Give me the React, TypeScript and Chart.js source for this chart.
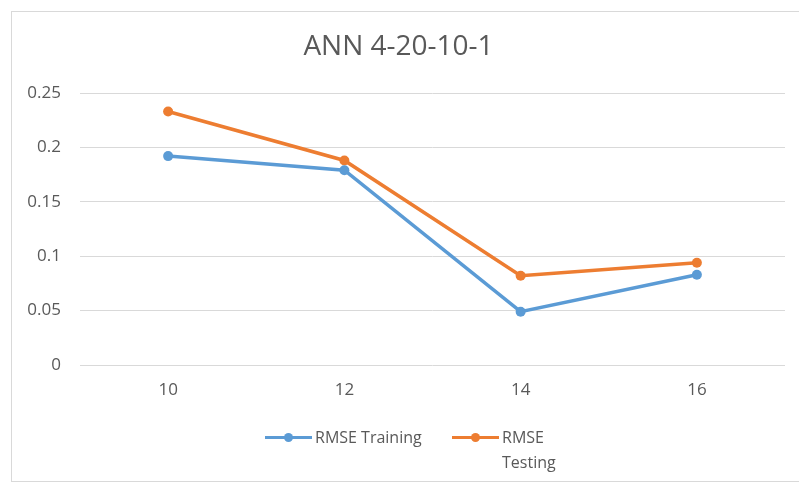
import React, { useEffect, useRef } from "react";
import { Chart, registerables } from "chart.js";

Chart.register(...registerables);

const titleText = "ANN 4-20-10-1";
const categories = ["10", "12", "14", "16"];
const trainingLabel = "RMSE Training";
const testingLabel = "RMSE Testing";
const trainingValues = [0.192, 0.179, 0.049, 0.083];
const testingValues = [0.233, 0.188, 0.082, 0.094];
const yTicks = [0, 0.05, 0.1, 0.15, 0.2, 0.25];

const BLUE = "#5B9BD5";
const ORANGE = "#ED7D31";
const TEXT = "#595959";
const GRID = "#d9d9d9";
const FONT = "'Open Sans', sans-serif";

function LegendItem({ color, label, left, textWidth }: { color: string; label: string; left: number; textWidth?: number }) {
  return (
    <div style={{ position: "absolute", left, top: 413, display: "flex", alignItems: "flex-start" }}>
      <div style={{ position: "relative", width: 47, height: 24, flex: "none" }}>
        <div style={{ position: "absolute", left: 0, top: 11, width: 47, height: 3, background: color }} />
        <div style={{ position: "absolute", left: 19, top: 8, width: 9, height: 9, borderRadius: "50%", background: color }} />
      </div>
      <div style={{ marginLeft: 3, font: `16px ${FONT}`, lineHeight: "25px", color: TEXT, width: textWidth, whiteSpace: textWidth ? "normal" : "nowrap" }}>{label}</div>
    </div>
  );
}

export default function App() {
  const ref = useRef<HTMLCanvasElement>(null);
  useEffect(() => {
    if (!ref.current) return;
    const chart = new Chart(ref.current, {
      type: "line",
      data: {
        labels: categories,
        datasets: [
          { label: trainingLabel, data: trainingValues, borderColor: BLUE, backgroundColor: BLUE, borderWidth: 3.5, pointRadius: 5, pointBorderWidth: 0, pointBackgroundColor: BLUE, tension: 0 },
          { label: testingLabel, data: testingValues, borderColor: ORANGE, backgroundColor: ORANGE, borderWidth: 3.5, pointRadius: 5, pointBorderWidth: 0, pointBackgroundColor: ORANGE, tension: 0 },
        ],
      },
      options: {
        responsive: false,
        animation: false,
        devicePixelRatio: 1,
        layout: { padding: { left: 0, right: 15, top: 0, bottom: 65.6 } },
        plugins: {
          legend: { display: false },
          tooltip: { enabled: false },
          title: {
            display: true,
            text: titleText,
            color: TEXT,
            font: { family: FONT, size: 28, weight: "normal" },
            padding: { top: 18, bottom: 29.4 },
          },
        },
        scales: {
          x: {
            offset: true,
            grid: { display: false, drawTicks: false },
            border: { display: false },
            ticks: { color: TEXT, font: { family: FONT, size: 17 }, padding: 15 },
          },
          y: {
            min: 0,
            max: 0.25,
            afterBuildTicks: (scale: any) => {
              scale.ticks = yTicks.map((v) => ({ value: v }));
            },
            afterFit: (scale: any) => {
              scale.width = 68;
            },
            grid: { color: GRID, lineWidth: 1, drawTicks: false },
            border: { display: false },
            ticks: {
              color: TEXT,
              font: { family: FONT, size: 17 },
              padding: 19,
              callback: (v: any) => String(Number(Number(v).toFixed(2))),
            },
          },
        },
      },
    });
    return () => chart.destroy();
  }, []);

  return (
    <div style={{ position: "fixed", left: 11, top: 11, width: 800, height: 471, border: `1px solid ${GRID}`, background: "#fff", boxSizing: "border-box" }}>
      <canvas ref={ref} width={788} height={469} style={{ position: "absolute", left: 0, top: 0, width: 788, height: 469 }} />
      <LegendItem color={BLUE} label={trainingLabel} left={253} />
      <LegendItem color={ORANGE} label={testingLabel} left={440} textWidth={65} />
    </div>
  );
}
